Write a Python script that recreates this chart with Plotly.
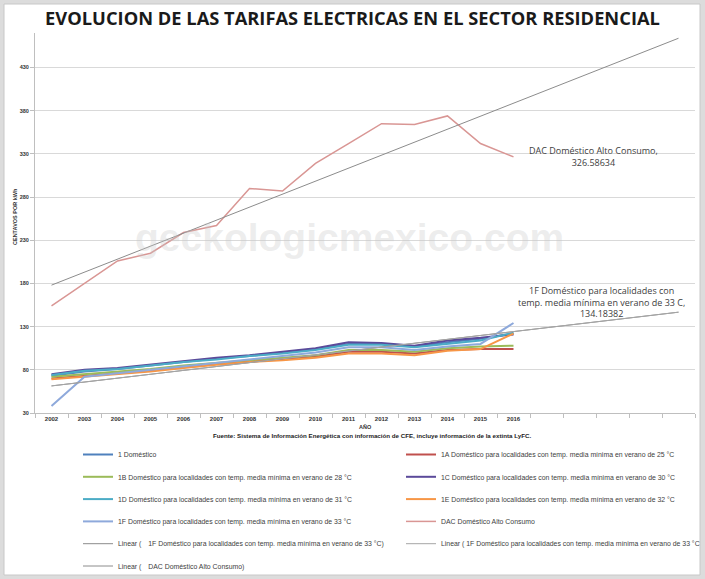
import numpy as np
import plotly.graph_objects as go

years = list(range(2002, 2017))
trend_years = list(range(2002, 2022))

s1 = [73, 78, 81, 85, 89, 93, 96, 100, 104, 110, 110, 107, 112, 116, 122]
s1A = [70, 73, 76, 79, 83, 87, 90, 92, 95, 101, 101, 99, 103, 104, 104]
s1B = [72, 75, 78, 81, 85, 88, 91, 94, 97, 103, 103, 101, 105, 107, 108]
s1C = [75, 80, 82, 86, 90, 94, 97, 101, 105, 112, 111, 108, 114, 117, 121]
s1D = [74, 79, 81, 85, 89, 92, 96, 99, 103, 109, 109, 106, 110, 114, 123]
s1E = [69, 72, 75, 78, 82, 86, 89, 91, 94, 99, 99, 97, 102, 104, 122]
s1F = [38, 72, 76, 80, 84, 88, 92, 96, 100, 106, 106, 103, 107, 110, 134.18382]
sDAC = [154, 180, 206, 215, 239, 247, 290, 287, 319, 342, 365, 364, 374, 342, 326.58634]

y_ticks = [30, 80, 130, 180, 230, 280, 330, 380, 430]

deg = "°"
base = "Doméstico para localidades con temp. media mínima en verano de"
names = {
    "1": "1 Doméstico",
    "1A": f"1A {base} 25 {deg}C",
    "1B": f"1B {base} 28 {deg}C",
    "1C": f"1C {base} 30 {deg}C",
    "1D": f"1D {base} 31 {deg}C",
    "1E": f"1E {base} 32 {deg}C",
    "1F": f"1F {base} 33 {deg}C",
    "DAC": "DAC Doméstico Alto Consumo",
}

colors = {
    "1": "#4F81BD", "1A": "#C0504D", "1B": "#9BBB59", "1C": "#5B4A9A",
    "1D": "#4BACC6", "1E": "#F79646", "1F": "#8EA9DB", "DAC": "#D99694",
}
data = {"1": s1, "1A": s1A, "1B": s1B, "1C": s1C, "1D": s1D, "1E": s1E, "1F": s1F, "DAC": sDAC}
legend_of = {"1": "legend", "1B": "legend", "1D": "legend", "1F": "legend",
             "1A": "legend2", "1C": "legend2", "1E": "legend2", "DAC": "legend2"}

# plot area in pixels
W, H = 705, 579
L, R, T, B = 35, 10, 33, 166
pw, ph = W - L - R, H - T - B
def px(x):
    return (x - L) / pw
def py(y):
    return (H - B - y) / ph

fig = go.Figure()

order = ["1", "1A", "1B", "1C", "1D", "1E", "1F", "DAC"]
for i, k in enumerate(order):
    fig.add_trace(go.Scatter(
        x=years, y=data[k], mode="lines", name=names[k],
        line=dict(color=colors[k], width=2 if k != "DAC" else 1.5),
        legend=legend_of[k], legendgroup=k, legendrank=i,
    ))

idx = np.arange(len(years))
idx_ext = np.arange(len(trend_years))
def trend(vals):
    m, b = np.polyfit(idx, np.array(vals, dtype=float), 1)
    return list(m * idx_ext + b)

tr1F = trend(s1F)
trDAC = trend(sDAC)
fig.add_trace(go.Scatter(x=trend_years, y=tr1F, mode="lines",
                         name=f"Linear (\u2003{names['1F']})",
                         line=dict(color="#8C8C8C", width=1), legend="legend", legendgroup="t1", legendrank=10))
fig.add_trace(go.Scatter(x=trend_years, y=tr1F, mode="lines",
                         name=f"Linear ( {names['1F']}",
                         line=dict(color="#A6A6A6", width=1), legend="legend2", legendgroup="t2", legendrank=11))
fig.add_trace(go.Scatter(x=trend_years, y=trDAC, mode="lines",
                         name=f"Linear (\u2003{names['DAC']})",
                         line=dict(color="#8C8C8C", width=1), legend="legend", legendgroup="t3", legendrank=12))

annotations = [
    dict(text="<b>geckologicmexico.com</b>", xref="paper", yref="paper", x=px(349), y=py(237),
         showarrow=False, font=dict(family="Liberation Sans", size=39, color="rgba(200,200,200,0.33)"),
         xanchor="center", yanchor="middle"),
    dict(text=f"DAC Doméstico Alto Consumo,<br>{sDAC[-1]}", x=years[-1], y=sDAC[-1],
         xref="x", yref="y", showarrow=False, xshift=80, yshift=0, xanchor="center", yanchor="middle",
         font=dict(family="Open Sans", size=9, color="#404040")),
    dict(text=f"1F Doméstico para localidades con<br>temp. media mínima en verano de 33 C,<br>{s1F[-1]}",
         x=years[-1], y=s1F[-1], xref="x", yref="y", showarrow=False, xshift=88, yshift=21,
         xanchor="center", yanchor="middle", font=dict(family="Open Sans", size=9, color="#404040")),
    dict(text="<b>AÑO</b>", xref="paper", yref="paper", x=px(366), y=py(432), showarrow=False,
         font=dict(family="Liberation Sans", size=5.5, color="#333333")),
    dict(text="<b>Fuente: Sistema de Información Energética con información de CFE, incluye información de la extinta LyFC.</b>",
         xref="paper", yref="paper", x=px(372), y=py(441), showarrow=False,
         font=dict(family="Liberation Sans", size=6.2, color="#222222")),
    dict(text="<b>CENTAVOS POR kWh</b>", xref="paper", yref="paper", x=px(10), y=py(217), showarrow=False,
         textangle=-90, font=dict(family="Liberation Sans", size=5.5, color="#333333")),
]

shapes = [
    dict(type="rect", xref="paper", yref="paper", x0=px(4), x1=px(700), y0=py(575), y1=py(4),
         fillcolor="white", line=dict(color="#c8c8c8", width=1), layer="below"),
]

legend_common = dict(orientation="v", font=dict(family="Liberation Sans", size=6.9, color="#404040"),
                     bgcolor="rgba(0,0,0,0)", tracegroupgap=3.3, yanchor="top", xanchor="left",
                     itemwidth=30)

fig.update_layout(
    width=W, height=H,
    margin=dict(l=L, r=R, t=T, b=B, autoexpand=False),
    paper_bgcolor="#dcdcdc", plot_bgcolor="white",
    title=dict(text="<b>EVOLUCION DE LAS TARIFAS ELECTRICAS EN EL SECTOR RESIDENCIAL</b>",
               x=0.5, xref="container", y=1 - 19 / H, yanchor="middle",
               font=dict(family="Open Sans", size=18.3, color="#1a1a1a")),
    xaxis=dict(range=[2001.5, 2021.5], tickvals=years, ticktext=[f"<b>{y}</b>" for y in years],
               showgrid=False, zeroline=False, showline=True, linecolor="#bfbfbf", linewidth=1,
               ticks="", tickfont=dict(family="Liberation Sans", size=6, color="#333333"),
               minor=dict(tickvals=[y + 0.5 for y in range(2001, 2022)], ticks="outside", ticklen=4,
                          tickcolor="#bfbfbf", showgrid=False)),
    yaxis=dict(range=[30, 470], tickvals=y_ticks, ticktext=[f"<b>{v}</b>" for v in y_ticks],
               showgrid=True, gridcolor="#d9d9d9", gridwidth=1,
               zeroline=False, showline=True, linecolor="#bfbfbf", ticks="outside", ticklen=4,
               tickcolor="#bfbfbf", tickfont=dict(family="Liberation Sans", size=5.5, color="#333333")),
    legend=dict(x=px(78), y=py(440), **legend_common),
    legend2=dict(x=px(401), y=py(440), **legend_common),
    annotations=annotations,
    shapes=shapes,
)

fig.write_html("out.html", config={"displayModeBar": False},
               post_script="document.body.style.margin='0';")
